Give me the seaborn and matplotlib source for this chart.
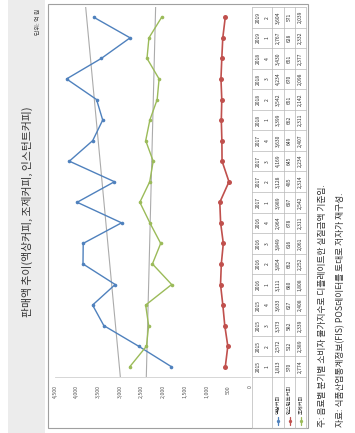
import numpy as np
import pandas as pd
import matplotlib
matplotlib.use("Agg")
import matplotlib.pyplot as plt
import matplotlib.transforms as mtransforms
from matplotlib.patches import Rectangle
import seaborn as sns

# quarterly sales (100 million KRW)
years = ["2015"] * 4 + ["2016"] * 4 + ["2017"] * 4 + ["2018"] * 4 + ["2019"] * 2
quarters = ["1", "2", "3", "4"] * 4 + ["1", "2"]
liquid = [1813, 2572, 3373, 3633, 3111, 3854, 3849, 2964, 3989, 3128,
          4169, 3630, 3399, 3542, 4234, 3430, 2767, 3604]
instant = [570, 512, 582, 627, 680, 662, 616, 678, 697, 485,
           645, 649, 662, 651, 670, 651, 628, 571]
mixed = [2774, 2389, 2339, 2408, 1808, 2252, 2061, 2311, 2542, 2314,
         2234, 2407, 2311, 2142, 2098, 2377, 2332, 2039]
series_names = ["액상커피", "인스턴트커피", "조제커피"]
series_colors = ["#4F81BD", "#C0504D", "#9BBB59"]
value_ticks = list(range(0, 5000, 500))

title = "판매액 추이(액상커피, 조제커피, 인스턴트커피)"
unit = "단위: 억 원"
note = "주: 음료별 분기별 소비자 물가지수로 디플레이트한 실질금액 기준임."
source = "자료: 식품산업통계정보(FIS) POS데이터를 토대로 저자가 재구성."

sns.set_theme(style="white")
plt.rcParams["font.family"] = ["Noto Sans CJK KR", "DejaVu Sans"]

W, H = 355, 433
fig = plt.figure(figsize=(W / 100, H / 100), dpi=100)
fig.patch.set_facecolor("white")


def frac(x0, y0, x1, y1):
    return [x0 / W, 1 - y1 / H, (x1 - x0) / W, (y1 - y0) / H]


# page layer in pixel units (y downwards)
bg = fig.add_axes([0, 0, 1, 1])
bg.set_xlim(0, W)
bg.set_ylim(H, 0)
bg.axis("off")

bg.add_patch(Rectangle((8, 0), 37, H, color="#ECECEC", lw=0, zorder=0))
bg.text(27, 212, title, rotation=90, ha="center", va="center",
        fontsize=7.8, color="#333333")
bg.text(39, 9, unit, rotation=90, ha="center", va="top",
        fontsize=4.3, color="#444444")
bg.add_patch(Rectangle((48, 4), 260, 424, fill=False, ec="#A0A0A0",
                       lw=0.8, zorder=1))
bg.text(323, 427, note, rotation=90, ha="center", va="bottom",
        fontsize=6.3, color="#333333")
bg.text(341, 427, source, rotation=90, ha="center", va="bottom",
        fontsize=6.3, color="#333333")

# chart: values run right-to-left, quarters bottom-to-top
ax = fig.add_axes(frac(55, 7, 250, 377))
ax.patch.set_alpha(0)
n = len(quarters)
idx = np.arange(n)
df = pd.DataFrame({
    "idx": np.tile(idx, 3),
    "value": liquid + instant + mixed,
    "series": np.repeat(series_names, n),
})

# linear trends for the two larger series
for vals in (liquid, mixed):
    k, b = np.polyfit(idx, vals, 1)
    trend = pd.DataFrame({"idx": [-0.5, n - 0.5],
                          "value": [k * -0.5 + b, k * (n - 0.5) + b]})
    sns.lineplot(data=trend, x="value", y="idx", sort=False, estimator=None,
                 color="#ABABAB", lw=0.8, ax=ax, legend=False)

styles = {"액상커피": dict(lw=1.0, ms=2.6),
          "인스턴트커피": dict(lw=1.2, ms=3.6),
          "조제커피": dict(lw=1.0, ms=2.6)}
for name, col in zip(series_names, series_colors):
    sub = df[df["series"] == name]
    sns.lineplot(data=sub, x="value", y="idx", sort=False, estimator=None,
                 color=col, marker="o", markeredgewidth=0,
                 lw=styles[name]["lw"], markersize=styles[name]["ms"],
                 ax=ax, legend=False)

ax.set_xlim(4500, 0)
ax.set_ylim(-0.5, n - 0.5)
ax.set_xticks(value_ticks)
ax.set_xticklabels([f"{v:,}" for v in value_ticks], rotation=90,
                   fontsize=3.8, color="#555555")
ax.tick_params(axis="x", length=0, pad=6)
ax.set_yticks([])
ax.set_xlabel("")
ax.set_ylabel("")
for s in ["top", "right", "left"]:
    ax.spines[s].set_visible(False)
ax.spines["bottom"].set_color("#D0D0D0")
ax.spines["bottom"].set_linewidth(0.6)

# data table sharing the quarter positions
tr = mtransforms.blended_transform_factory(bg.transData, ax.transData)
edges = [252, 272, 284, 295, 306]
label_bottom = (367 - 428) / 20.6
line_kw = dict(color="#B8B8B8", lw=0.5, transform=tr, clip_on=False)
for i in range(n + 1):
    bg.plot([edges[0], edges[-1]], [i - 0.5, i - 0.5], **line_kw)
bg.plot([edges[0], edges[-1]], [label_bottom, label_bottom], **line_kw)
for e in edges:
    bg.plot([e, e], [label_bottom, n - 0.5], **line_kw)

tkw = dict(rotation=90, ha="center", va="center", fontsize=3.6,
           color="#333333", transform=tr)
for i in range(n):
    bg.text(258.5, i, years[i], **tkw)
    bg.text(267, i, quarters[i], **tkw)
    for j, vals in enumerate((liquid, instant, mixed)):
        bg.text((edges[j + 1] + edges[j + 2]) / 2, i, f"{vals[i]:,}", **tkw)

for j, (name, col) in enumerate(zip(series_names, series_colors)):
    cx = (edges[j + 1] + edges[j + 2]) / 2
    bg.text(cx, 414, name, rotation=90, ha="center", va="bottom",
            fontsize=3.8, color="#333333")
    bg.plot([cx, cx], [417, 425], color=col, lw=0.9)
    bg.plot([cx], [421], marker="o", color=col, ms=2.4, mew=0)

fig.savefig("out.png", dpi=100)
